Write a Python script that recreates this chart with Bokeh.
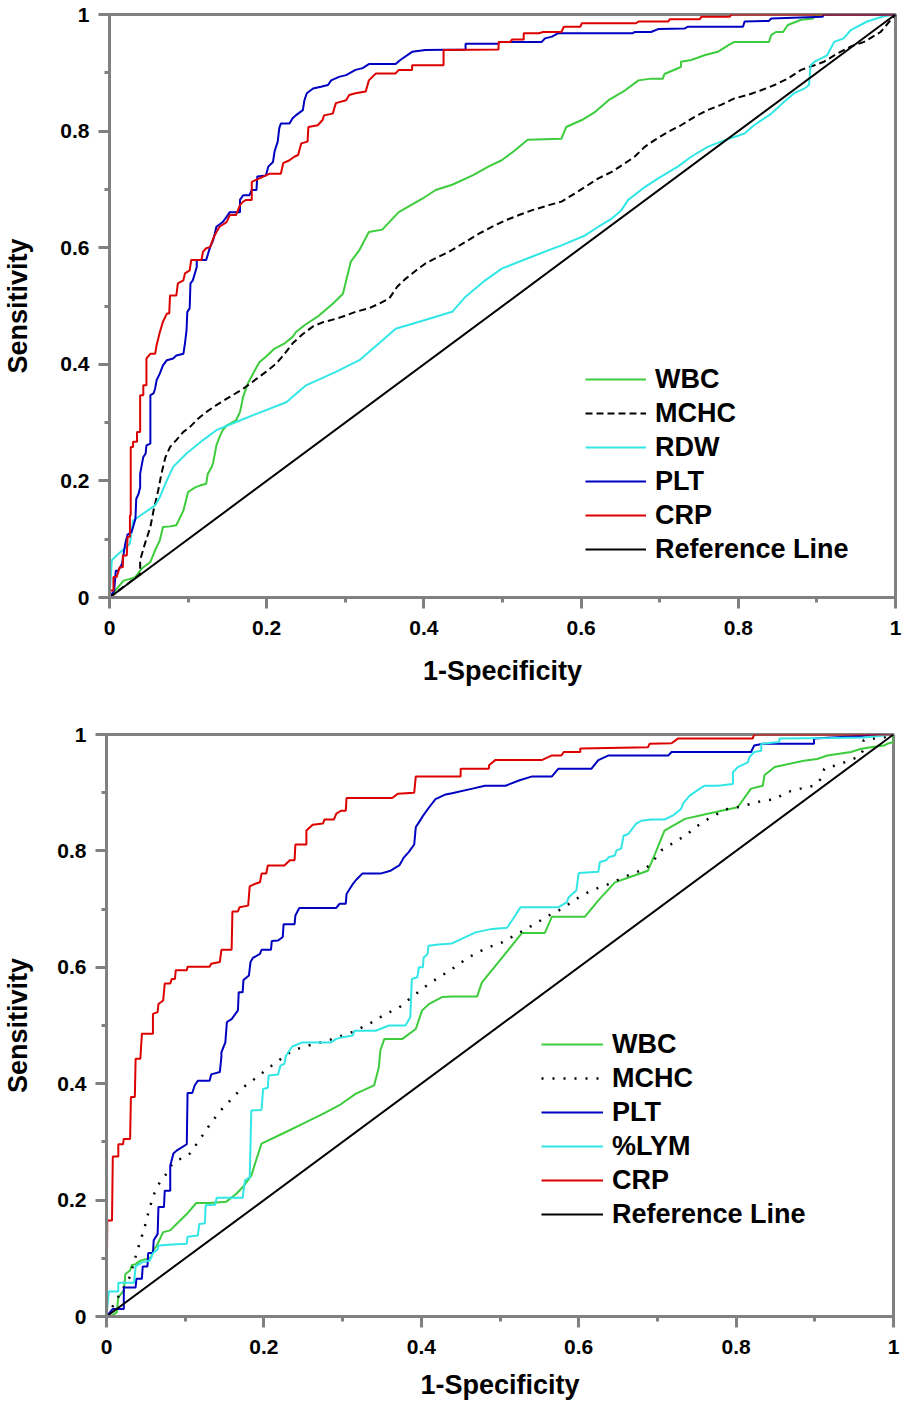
from bokeh.plotting import figure
from bokeh.models import FixedTicker
from bokeh.embed import file_html
from bokeh.resources import INLINE

# ---------------- axis ticks ----------------
ticks = [0, 0.2, 0.4, 0.6, 0.8, 1]
tick_labels = ["0", "0.2", "0.4", "0.6", "0.8", "1"]
minor_ticks = [0.1, 0.3, 0.5, 0.7, 0.9]

ref_x = [0, 1]
ref_y = [0, 1]

# ---------------- top chart ----------------
top_wbc_x = [0, 0.016, 0.018, 0.026, 0.033, 0.039, 0.043, 0.052, 0.058, 0.064, 0.068, 0.077, 0.085, 0.094, 0.100, 0.109, 0.115, 0.123, 0.125, 0.130, 0.132, 0.136, 0.140, 0.144, 0.149, 0.161, 0.166, 0.170, 0.176, 0.187, 0.191, 0.199, 0.210, 0.223, 0.233, 0.237, 0.248, 0.267, 0.284, 0.297, 0.307, 0.318, 0.330, 0.347, 0.368, 0.398, 0.415, 0.436, 0.462, 0.482, 0.499, 0.514, 0.532, 0.575, 0.581, 0.601, 0.618, 0.635, 0.656, 0.673, 0.689, 0.704, 0.706, 0.727, 0.727, 0.740, 0.757, 0.774, 0.787, 0.795, 0.839, 0.842, 0.848, 0.857, 0.863, 0.880, 0.895, 0.897, 0.905, 1]
top_wbc_y = [0, 0.026, 0.029, 0.032, 0.035, 0.046, 0.052, 0.061, 0.081, 0.098, 0.121, 0.122, 0.124, 0.149, 0.181, 0.189, 0.192, 0.195, 0.212, 0.224, 0.232, 0.261, 0.275, 0.287, 0.295, 0.304, 0.318, 0.344, 0.367, 0.395, 0.404, 0.413, 0.427, 0.436, 0.447, 0.455, 0.467, 0.484, 0.504, 0.521, 0.576, 0.596, 0.627, 0.631, 0.661, 0.684, 0.699, 0.708, 0.724, 0.739, 0.750, 0.765, 0.785, 0.787, 0.807, 0.819, 0.833, 0.853, 0.870, 0.887, 0.890, 0.890, 0.898, 0.910, 0.919, 0.922, 0.930, 0.936, 0.947, 0.953, 0.953, 0.965, 0.970, 0.970, 0.982, 0.991, 0.993, 0.997, 1.0, 1]

top_mchc_x = [0, 0.039, 0.039, 0.045, 0.052, 0.056, 0.062, 0.066, 0.071, 0.077, 0.085, 0.094, 0.102, 0.113, 0.123, 0.136, 0.153, 0.170, 0.187, 0.199, 0.212, 0.221, 0.233, 0.246, 0.259, 0.271, 0.288, 0.301, 0.313, 0.330, 0.343, 0.356, 0.366, 0.377, 0.390, 0.402, 0.415, 0.432, 0.453, 0.470, 0.487, 0.504, 0.521, 0.537, 0.559, 0.575, 0.592, 0.605, 0.622, 0.639, 0.656, 0.668, 0.681, 0.694, 0.711, 0.727, 0.744, 0.761, 0.778, 0.795, 0.812, 0.829, 0.846, 0.863, 0.880, 0.897, 0.909, 0.926, 0.943, 0.960, 0.981, 1]
top_mchc_y = [0, 0.040, 0.064, 0.092, 0.121, 0.149, 0.184, 0.212, 0.240, 0.258, 0.270, 0.284, 0.292, 0.307, 0.318, 0.330, 0.344, 0.358, 0.375, 0.387, 0.401, 0.415, 0.436, 0.452, 0.465, 0.472, 0.478, 0.484, 0.490, 0.496, 0.504, 0.513, 0.533, 0.547, 0.561, 0.573, 0.582, 0.593, 0.610, 0.624, 0.636, 0.647, 0.656, 0.664, 0.673, 0.679, 0.693, 0.704, 0.719, 0.730, 0.745, 0.756, 0.773, 0.785, 0.799, 0.810, 0.824, 0.836, 0.845, 0.856, 0.862, 0.870, 0.879, 0.890, 0.905, 0.913, 0.919, 0.933, 0.945, 0.953, 0.970, 1]

top_rdw_x = [0, 0.003, 0.009, 0.026, 0.030, 0.043, 0.058, 0.064, 0.073, 0.081, 0.098, 0.119, 0.136, 0.161, 0.187, 0.225, 0.250, 0.288, 0.318, 0.330, 0.343, 0.364, 0.394, 0.436, 0.453, 0.478, 0.499, 0.542, 0.575, 0.605, 0.622, 0.639, 0.651, 0.660, 0.681, 0.698, 0.723, 0.740, 0.761, 0.778, 0.795, 0.808, 0.820, 0.842, 0.858, 0.871, 0.884, 0.890, 0.892, 0.897, 0.913, 0.922, 0.934, 0.943, 0.964, 0.985, 1]
top_rdw_y = [0, 0.064, 0.072, 0.092, 0.132, 0.144, 0.158, 0.172, 0.201, 0.224, 0.247, 0.270, 0.287, 0.301, 0.315, 0.335, 0.364, 0.387, 0.407, 0.421, 0.436, 0.461, 0.473, 0.490, 0.516, 0.544, 0.564, 0.587, 0.604, 0.621, 0.636, 0.650, 0.664, 0.682, 0.704, 0.719, 0.739, 0.756, 0.773, 0.782, 0.790, 0.796, 0.810, 0.830, 0.850, 0.865, 0.873, 0.879, 0.913, 0.919, 0.930, 0.953, 0.959, 0.973, 0.988, 0.997, 1]

top_plt_x = [0, 0.006, 0.008, 0.011, 0.016, 0.020, 0.023, 0.028, 0.030, 0.033, 0.034, 0.037, 0.039, 0.039, 0.041, 0.043, 0.046, 0.047, 0.052, 0.052, 0.056, 0.058, 0.060, 0.064, 0.068, 0.073, 0.081, 0.085, 0.094, 0.096, 0.098, 0.099, 0.102, 0.103, 0.106, 0.111, 0.111, 0.123, 0.128, 0.132, 0.136, 0.144, 0.149, 0.153, 0.166, 0.166, 0.170, 0.178, 0.181, 0.187, 0.188, 0.199, 0.202, 0.208, 0.210, 0.214, 0.216, 0.218, 0.229, 0.233, 0.237, 0.246, 0.248, 0.251, 0.259, 0.269, 0.278, 0.282, 0.292, 0.301, 0.313, 0.322, 0.330, 0.364, 0.370, 0.385, 0.402, 0.453, 0.453, 0.495, 0.497, 0.550, 0.554, 0.563, 0.571, 0.666, 0.668, 0.689, 0.698, 0.732, 0.736, 0.806, 0.808, 0.839, 0.842, 0.907, 0.909, 1]
top_plt_y = [0, 0.012, 0.046, 0.046, 0.058, 0.092, 0.108, 0.112, 0.121, 0.135, 0.169, 0.178, 0.189, 0.212, 0.227, 0.241, 0.247, 0.261, 0.264, 0.347, 0.350, 0.358, 0.373, 0.384, 0.398, 0.407, 0.410, 0.415, 0.418, 0.436, 0.458, 0.490, 0.496, 0.539, 0.544, 0.567, 0.579, 0.579, 0.601, 0.613, 0.636, 0.644, 0.653, 0.661, 0.661, 0.682, 0.690, 0.690, 0.699, 0.699, 0.722, 0.724, 0.739, 0.747, 0.765, 0.782, 0.805, 0.813, 0.813, 0.822, 0.827, 0.836, 0.853, 0.865, 0.873, 0.876, 0.879, 0.887, 0.893, 0.896, 0.905, 0.908, 0.915, 0.915, 0.922, 0.936, 0.939, 0.940, 0.950, 0.950, 0.953, 0.953, 0.959, 0.962, 0.968, 0.968, 0.970, 0.970, 0.975, 0.976, 0.979, 0.979, 0.988, 0.989, 0.993, 0.996, 1.0, 1]

top_crp_x = [0, 0.001, 0.005, 0.005, 0.009, 0.013, 0.017, 0.017, 0.022, 0.023, 0.026, 0.026, 0.027, 0.027, 0.030, 0.030, 0.035, 0.035, 0.039, 0.039, 0.043, 0.043, 0.047, 0.047, 0.052, 0.058, 0.060, 0.064, 0.068, 0.073, 0.076, 0.077, 0.085, 0.087, 0.094, 0.096, 0.102, 0.104, 0.117, 0.119, 0.123, 0.128, 0.132, 0.136, 0.140, 0.149, 0.153, 0.161, 0.166, 0.170, 0.174, 0.181, 0.181, 0.199, 0.204, 0.218, 0.221, 0.229, 0.235, 0.240, 0.244, 0.252, 0.253, 0.265, 0.271, 0.273, 0.284, 0.288, 0.301, 0.305, 0.313, 0.326, 0.330, 0.339, 0.364, 0.368, 0.385, 0.385, 0.425, 0.425, 0.495, 0.495, 0.510, 0.512, 0.527, 0.527, 0.546, 0.552, 0.575, 0.578, 0.599, 0.601, 0.670, 0.673, 0.711, 0.713, 0.751, 0.753, 0.789, 0.791, 1]
top_crp_y = [0, 0.012, 0.012, 0.035, 0.035, 0.052, 0.052, 0.072, 0.072, 0.104, 0.104, 0.141, 0.141, 0.258, 0.258, 0.267, 0.267, 0.284, 0.284, 0.347, 0.347, 0.364, 0.364, 0.410, 0.418, 0.418, 0.433, 0.455, 0.473, 0.487, 0.487, 0.518, 0.518, 0.539, 0.544, 0.556, 0.561, 0.579, 0.579, 0.593, 0.599, 0.601, 0.616, 0.627, 0.636, 0.644, 0.656, 0.656, 0.673, 0.679, 0.682, 0.682, 0.713, 0.724, 0.727, 0.727, 0.745, 0.750, 0.756, 0.759, 0.779, 0.782, 0.807, 0.810, 0.819, 0.827, 0.830, 0.848, 0.853, 0.862, 0.865, 0.868, 0.887, 0.899, 0.899, 0.905, 0.905, 0.913, 0.913, 0.939, 0.940, 0.953, 0.953, 0.957, 0.957, 0.968, 0.968, 0.970, 0.970, 0.979, 0.979, 0.985, 0.985, 0.988, 0.988, 0.992, 0.992, 0.996, 0.996, 1.0, 1]

# ---------------- bottom chart ----------------
bot_wbc_x = [0, 0.005, 0.013, 0.015, 0.022, 0.024, 0.030, 0.032, 0.037, 0.043, 0.051, 0.057, 0.059, 0.064, 0.072, 0.081, 0.089, 0.102, 0.114, 0.131, 0.152, 0.165, 0.173, 0.184, 0.190, 0.197, 0.228, 0.249, 0.275, 0.296, 0.317, 0.340, 0.346, 0.348, 0.353, 0.376, 0.393, 0.401, 0.410, 0.427, 0.439, 0.471, 0.477, 0.503, 0.528, 0.557, 0.566, 0.608, 0.625, 0.646, 0.667, 0.688, 0.697, 0.709, 0.735, 0.764, 0.802, 0.819, 0.834, 0.836, 0.849, 0.886, 0.903, 0.916, 0.946, 0.958, 0.971, 0.988, 0.992, 1.0, 1]
bot_wbc_y = [0, 0, 0.007, 0.033, 0.045, 0.073, 0.079, 0.088, 0.090, 0.096, 0.099, 0.102, 0.113, 0.122, 0.145, 0.148, 0.159, 0.176, 0.195, 0.195, 0.197, 0.211, 0.222, 0.242, 0.268, 0.297, 0.317, 0.331, 0.348, 0.363, 0.383, 0.397, 0.428, 0.457, 0.477, 0.477, 0.494, 0.526, 0.537, 0.549, 0.550, 0.550, 0.574, 0.617, 0.659, 0.659, 0.687, 0.687, 0.715, 0.746, 0.756, 0.766, 0.795, 0.835, 0.855, 0.864, 0.875, 0.907, 0.912, 0.930, 0.944, 0.955, 0.958, 0.964, 0.970, 0.975, 0.978, 0.981, 0.984, 0.987, 1]

bot_mchc_x = [0, 0.010, 0.030, 0.038, 0.049, 0.055, 0.062, 0.068, 0.076, 0.083, 0.089, 0.100, 0.106, 0.119, 0.129, 0.143, 0.157, 0.171, 0.188, 0.205, 0.222, 0.236, 0.258, 0.283, 0.313, 0.334, 0.355, 0.372, 0.388, 0.410, 0.439, 0.460, 0.481, 0.503, 0.524, 0.545, 0.562, 0.578, 0.600, 0.616, 0.638, 0.663, 0.684, 0.692, 0.705, 0.718, 0.735, 0.752, 0.768, 0.789, 0.806, 0.827, 0.849, 0.865, 0.882, 0.899, 0.908, 0.912, 0.920, 0.933, 0.946, 0.958, 0.962, 0.962, 0.975, 0.988, 1]
bot_mchc_y = [0, 0.022, 0.069, 0.108, 0.156, 0.188, 0.216, 0.231, 0.245, 0.261, 0.268, 0.274, 0.280, 0.305, 0.325, 0.351, 0.371, 0.391, 0.408, 0.426, 0.443, 0.457, 0.466, 0.475, 0.489, 0.503, 0.520, 0.531, 0.549, 0.572, 0.597, 0.617, 0.632, 0.643, 0.659, 0.675, 0.689, 0.700, 0.720, 0.732, 0.743, 0.758, 0.769, 0.778, 0.801, 0.812, 0.826, 0.844, 0.858, 0.872, 0.876, 0.884, 0.889, 0.901, 0.907, 0.912, 0.924, 0.941, 0.944, 0.950, 0.956, 0.964, 0.975, 0.990, 0.993, 0.995, 1]

bot_plt_x = [0, 0.008, 0.022, 0.022, 0.037, 0.038, 0.045, 0.046, 0.052, 0.053, 0.059, 0.060, 0.065, 0.066, 0.073, 0.074, 0.081, 0.081, 0.085, 0.089, 0.102, 0.103, 0.109, 0.112, 0.116, 0.131, 0.133, 0.144, 0.146, 0.146, 0.151, 0.153, 0.159, 0.167, 0.168, 0.173, 0.174, 0.181, 0.183, 0.186, 0.195, 0.197, 0.209, 0.210, 0.218, 0.224, 0.225, 0.239, 0.240, 0.245, 0.292, 0.296, 0.304, 0.305, 0.313, 0.317, 0.325, 0.348, 0.361, 0.372, 0.378, 0.384, 0.391, 0.393, 0.397, 0.401, 0.410, 0.418, 0.431, 0.439, 0.465, 0.481, 0.507, 0.524, 0.541, 0.566, 0.574, 0.616, 0.625, 0.638, 0.714, 0.718, 0.819, 0.823, 0.834, 0.899, 0.899, 0.962, 1]
bot_plt_y = [0, 0.013, 0.013, 0.050, 0.050, 0.065, 0.065, 0.086, 0.086, 0.109, 0.109, 0.131, 0.142, 0.188, 0.188, 0.216, 0.216, 0.259, 0.280, 0.285, 0.296, 0.384, 0.384, 0.397, 0.405, 0.405, 0.416, 0.420, 0.446, 0.454, 0.471, 0.506, 0.511, 0.526, 0.557, 0.557, 0.578, 0.586, 0.609, 0.616, 0.623, 0.630, 0.630, 0.645, 0.646, 0.652, 0.674, 0.674, 0.689, 0.702, 0.702, 0.709, 0.709, 0.726, 0.743, 0.750, 0.761, 0.761, 0.766, 0.775, 0.789, 0.798, 0.811, 0.841, 0.849, 0.858, 0.875, 0.889, 0.897, 0.899, 0.907, 0.912, 0.912, 0.921, 0.928, 0.928, 0.941, 0.941, 0.956, 0.964, 0.964, 0.970, 0.970, 0.981, 0.984, 0.984, 0.993, 0.998, 1]

bot_lym_x = [0, 0.003, 0.015, 0.015, 0.035, 0.037, 0.045, 0.055, 0.059, 0.065, 0.066, 0.089, 0.102, 0.103, 0.116, 0.118, 0.125, 0.126, 0.138, 0.140, 0.173, 0.176, 0.182, 0.184, 0.197, 0.199, 0.205, 0.206, 0.218, 0.221, 0.226, 0.228, 0.236, 0.249, 0.285, 0.292, 0.300, 0.313, 0.315, 0.342, 0.359, 0.380, 0.386, 0.388, 0.395, 0.397, 0.402, 0.403, 0.408, 0.409, 0.422, 0.439, 0.456, 0.469, 0.490, 0.509, 0.515, 0.526, 0.574, 0.585, 0.587, 0.597, 0.600, 0.625, 0.627, 0.635, 0.638, 0.646, 0.648, 0.654, 0.657, 0.663, 0.673, 0.680, 0.692, 0.709, 0.720, 0.730, 0.733, 0.741, 0.754, 0.760, 0.777, 0.796, 0.796, 0.802, 0.815, 0.817, 0.823, 0.832, 0.832, 0.855, 0.855, 0.920, 0.962, 1]
bot_lym_y = [0, 0.043, 0.043, 0.058, 0.058, 0.086, 0.093, 0.096, 0.109, 0.115, 0.122, 0.124, 0.125, 0.137, 0.139, 0.159, 0.160, 0.191, 0.192, 0.204, 0.204, 0.234, 0.239, 0.354, 0.355, 0.391, 0.393, 0.414, 0.416, 0.431, 0.434, 0.448, 0.464, 0.471, 0.471, 0.477, 0.480, 0.483, 0.491, 0.491, 0.500, 0.500, 0.514, 0.580, 0.583, 0.600, 0.600, 0.617, 0.623, 0.637, 0.639, 0.641, 0.652, 0.660, 0.666, 0.668, 0.680, 0.703, 0.703, 0.712, 0.720, 0.732, 0.762, 0.764, 0.781, 0.784, 0.789, 0.792, 0.801, 0.804, 0.826, 0.829, 0.847, 0.852, 0.854, 0.854, 0.861, 0.872, 0.882, 0.895, 0.907, 0.912, 0.912, 0.915, 0.935, 0.944, 0.952, 0.961, 0.970, 0.972, 0.984, 0.987, 0.993, 0.994, 0.995, 1]

bot_crp_x = [0, 0.001, 0.007, 0.008, 0.015, 0.015, 0.021, 0.022, 0.030, 0.031, 0.036, 0.037, 0.043, 0.045, 0.059, 0.059, 0.065, 0.066, 0.072, 0.074, 0.081, 0.083, 0.087, 0.088, 0.102, 0.103, 0.131, 0.133, 0.144, 0.146, 0.159, 0.160, 0.167, 0.169, 0.180, 0.182, 0.188, 0.195, 0.197, 0.203, 0.205, 0.226, 0.233, 0.239, 0.240, 0.254, 0.254, 0.262, 0.275, 0.277, 0.289, 0.292, 0.298, 0.304, 0.305, 0.363, 0.370, 0.391, 0.393, 0.450, 0.450, 0.486, 0.486, 0.494, 0.553, 0.566, 0.578, 0.581, 0.602, 0.602, 0.688, 0.690, 0.718, 0.726, 0.821, 0.823, 1]
bot_crp_y = [0, 0.165, 0.165, 0.275, 0.275, 0.296, 0.296, 0.305, 0.305, 0.377, 0.377, 0.443, 0.443, 0.486, 0.486, 0.520, 0.523, 0.537, 0.543, 0.572, 0.572, 0.580, 0.580, 0.595, 0.595, 0.601, 0.601, 0.606, 0.609, 0.630, 0.630, 0.696, 0.696, 0.703, 0.706, 0.739, 0.743, 0.746, 0.761, 0.761, 0.775, 0.775, 0.784, 0.784, 0.811, 0.811, 0.835, 0.845, 0.847, 0.854, 0.854, 0.864, 0.869, 0.869, 0.891, 0.891, 0.898, 0.900, 0.928, 0.928, 0.941, 0.941, 0.947, 0.956, 0.956, 0.964, 0.964, 0.970, 0.970, 0.976, 0.978, 0.984, 0.985, 0.993, 0.993, 1.0, 1]

# ---------------- styles ----------------
GREEN = "#3ccc3c"
CYAN = "#33e6e6"
BLUE = "#0000c0"
RED = "#dd0000"
GRAY = "#808080"
FONT = "Liberation Sans"


def make_fig(height, mb_left, mb_right, mb_top, mb_bottom, y_lab_standoff, x_lab_standoff):
    p = figure(width=904, height=height, x_range=(0, 1), y_range=(0, 1),
               output_backend="svg", toolbar_location=None,
               min_border_left=mb_left, min_border_right=mb_right,
               min_border_top=mb_top, min_border_bottom=mb_bottom,
               background_fill_color="white", border_fill_color="white")
    p.xgrid.visible = False
    p.ygrid.visible = False
    p.outline_line_color = GRAY
    p.outline_line_width = 3
    p.xaxis.axis_label = "1-Specificity"
    p.yaxis.axis_label = "Sensitivity"
    for ax in (p.xaxis[0], p.yaxis[0]):
        ax.ticker = FixedTicker(ticks=ticks, minor_ticks=minor_ticks)
        ax.major_label_overrides = dict(zip(ticks, tick_labels))
        ax.axis_line_color = GRAY
        ax.axis_line_width = 3
        ax.major_tick_line_color = GRAY
        ax.major_tick_line_width = 3
        ax.minor_tick_line_color = GRAY
        ax.minor_tick_line_width = 3
        ax.major_tick_in = 0
        ax.major_tick_out = 11
        ax.minor_tick_in = 0
        ax.minor_tick_out = 5
        ax.major_label_text_font = FONT
        ax.major_label_text_font_style = "bold"
        ax.major_label_text_font_size = "21px"
        ax.major_label_text_color = "black"
        ax.axis_label_text_font = FONT
        ax.axis_label_text_font_style = "bold"
        ax.axis_label_text_font_size = "27px"
        ax.axis_label_text_color = "black"
    p.xaxis[0].major_label_standoff = 12
    p.yaxis[0].major_label_standoff = 9
    p.yaxis[0].axis_label_standoff = y_lab_standoff
    p.xaxis[0].axis_label_standoff = x_lab_standoff
    return p


def style_legend(p, loc, glyph_w, standoff):
    lg = p.legend[0]
    lg.location = loc
    lg.glyph_width = glyph_w
    lg.glyph_height = 34
    lg.label_height = 34
    lg.spacing = 0
    lg.padding = 0
    lg.margin = 0
    lg.label_standoff = standoff
    lg.border_line_alpha = 0
    lg.background_fill_alpha = 0
    lg.label_text_font = FONT
    lg.label_text_font_style = "bold"
    lg.label_text_font_size = "27px"
    lg.label_text_color = "black"


# top figure (frame: x 106..895, y 14..597)
p1 = make_fig(700, 106, 9, 14, 103, 24, 18)
p1.line(top_wbc_x, top_wbc_y, line_color=GREEN, line_width=2, legend_label="WBC")
p1.line(top_mchc_x, top_mchc_y, line_color="black", line_width=2, line_dash="7 4", legend_label="MCHC")
p1.line(top_rdw_x, top_rdw_y, line_color=CYAN, line_width=2, legend_label="RDW")
p1.line(top_plt_x, top_plt_y, line_color=BLUE, line_width=2, legend_label="PLT")
p1.line(top_crp_x, top_crp_y, line_color=RED, line_width=2, legend_label="CRP")
p1.line(ref_x, ref_y, line_color="black", line_width=2, legend_label="Reference Line")
style_legend(p1, (476, 31), 61, 9)

# bottom figure (frame: x 103..893, y 734..1316)
p2 = make_fig(704, 103, 11, 34, 88, 21, 13)
p2.line(bot_wbc_x, bot_wbc_y, line_color=GREEN, line_width=2, legend_label="WBC")
p2.line(bot_mchc_x, bot_mchc_y, line_color="black", line_width=2.5, line_dash="2 9", legend_label="MCHC")
p2.line(bot_plt_x, bot_plt_y, line_color=BLUE, line_width=2, legend_label="PLT")
p2.line(bot_lym_x, bot_lym_y, line_color=CYAN, line_width=2, legend_label="%LYM")
p2.line(bot_crp_x, bot_crp_y, line_color=RED, line_width=2, legend_label="CRP")
p2.line(ref_x, ref_y, line_color="black", line_width=2, legend_label="Reference Line")
style_legend(p2, (435, 85), 62, 9)

# two independent roots stacked vertically (no frame alignment between them)
open("out.html", "w").write(file_html([p1, p2], INLINE))
